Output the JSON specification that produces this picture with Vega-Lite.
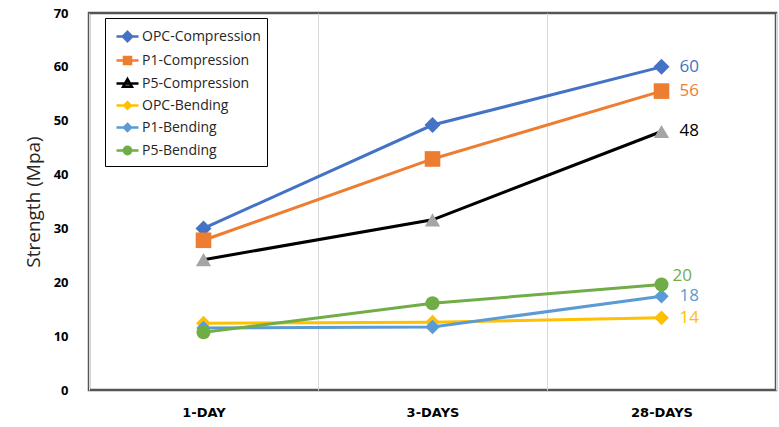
{
  "$schema": "https://vega.github.io/schema/vega-lite/v6.json",
  "width": 687,
  "height": 377,
  "autosize": {"type": "none"},
  "padding": {"left": 89, "top": 13, "right": 3, "bottom": 37},
  "background": "white",
  "config": {
    "view": {"stroke": "#555555", "strokeWidth": 2.5},
    "font": "Open Sans"
  },
  "data": {
    "values": [
      {"series": "OPC-Compression", "day": "1-DAY", "value": 30},
      {"series": "OPC-Compression", "day": "3-DAYS", "value": 49.2},
      {"series": "OPC-Compression", "day": "28-DAYS", "value": 60, "label": "60"},
      {"series": "P1-Compression", "day": "1-DAY", "value": 27.8},
      {"series": "P1-Compression", "day": "3-DAYS", "value": 42.9},
      {"series": "P1-Compression", "day": "28-DAYS", "value": 55.5, "label": "56"},
      {"series": "P5-Compression", "day": "1-DAY", "value": 24.2},
      {"series": "P5-Compression", "day": "3-DAYS", "value": 31.6},
      {"series": "P5-Compression", "day": "28-DAYS", "value": 48, "label": "48"},
      {"series": "OPC-Bending", "day": "1-DAY", "value": 12.4},
      {"series": "OPC-Bending", "day": "3-DAYS", "value": 12.6},
      {"series": "OPC-Bending", "day": "28-DAYS", "value": 13.4, "label": "14"},
      {"series": "P1-Bending", "day": "1-DAY", "value": 11.5},
      {"series": "P1-Bending", "day": "3-DAYS", "value": 11.7},
      {"series": "P1-Bending", "day": "28-DAYS", "value": 17.4, "label": "18"},
      {"series": "P5-Bending", "day": "1-DAY", "value": 10.7},
      {"series": "P5-Bending", "day": "3-DAYS", "value": 16.1},
      {"series": "P5-Bending", "day": "28-DAYS", "value": 19.6, "label": "20"}
    ]
  },
  "encoding": {
    "x": {
      "field": "day", "type": "nominal", "sort": ["1-DAY", "3-DAYS", "28-DAYS"],
      "scale": {"paddingInner": 0, "paddingOuter": 0},
      "axis": {
        "title": null, "labelAngle": 0, "grid": true, "tickBand": "extent",
        "gridColor": "#d9d9d9", "gridWidth": 1, "ticks": false, "domain": false,
        "labelFont": "DejaVu Sans", "labelFontWeight": "bold", "labelFontSize": 13,
        "labelColor": "#000000", "labelPadding": 16
      }
    },
    "y": {
      "field": "value", "type": "quantitative",
      "scale": {"domain": [0, 70], "nice": false},
      "axis": {
        "title": "Strength (Mpa)", "values": [0, 10, 20, 30, 40, 50, 60, 70],
        "grid": false, "ticks": false, "domain": false,
        "labelFont": "Open Sans", "labelFontWeight": "bold", "labelFontSize": 13,
        "labelColor": "#000000", "labelPadding": 21,
        "titleFont": "Open Sans", "titleFontWeight": "normal", "titleFontSize": 19,
        "titleColor": "#262626", "titlePadding": 10
      }
    }
  },
  "resolve": {"scale": {"shape": "independent", "fill": "independent", "stroke": "independent", "size": "independent", "strokeWidth": "independent"}},
  "layer": [
    {
      "mark": {"type": "line"},
      "encoding": {
        "detail": {"field": "series"},
        "stroke": {
          "field": "series", "type": "nominal", "legend": null,
          "scale": {
            "domain": ["OPC-Compression", "P1-Compression", "P5-Compression", "OPC-Bending", "P1-Bending", "P5-Bending"],
            "range": ["#4472C4", "#ED7D31", "#000000", "#FFC000", "#5B9BD5", "#70AD47"]
          }
        },
        "strokeWidth": {
          "field": "series", "type": "nominal", "legend": null,
          "scale": {
            "domain": ["OPC-Compression", "P1-Compression", "P5-Compression", "OPC-Bending", "P1-Bending", "P5-Bending"],
            "range": [3, 3, 3, 2.5, 2.5, 2.5]
          }
        }
      }
    },
    {
      "mark": {"type": "point", "filled": true, "opacity": 1},
      "encoding": {
        "fill": {
          "field": "series", "type": "nominal", "legend": null,
          "scale": {
            "domain": ["OPC-Compression", "P1-Compression", "P5-Compression", "OPC-Bending", "P1-Bending", "P5-Bending"],
            "range": ["#4472C4", "#ED7D31", "#A5A5A5", "#FFC000", "#5B9BD5", "#70AD47"]
          }
        },
        "shape": {
          "field": "series", "type": "nominal", "legend": null,
          "scale": {
            "domain": ["OPC-Compression", "P1-Compression", "P5-Compression", "OPC-Bending", "P1-Bending", "P5-Bending"],
            "range": ["diamond", "square", "triangle-up", "diamond", "diamond", "circle"]
          }
        },
        "size": {
          "field": "series", "type": "nominal", "legend": null,
          "scale": {
            "domain": ["OPC-Compression", "P1-Compression", "P5-Compression", "OPC-Bending", "P1-Bending", "P5-Bending"],
            "range": [256, 196, 240, 121, 144, 170]
          }
        }
      }
    },
    {
      "transform": [{"filter": "false"}],
      "mark": {"type": "point", "filled": true, "opacity": 1},
      "encoding": {
        "fill": {
          "field": "series", "type": "nominal",
          "scale": {
            "domain": ["OPC-Compression", "P1-Compression", "P5-Compression", "OPC-Bending", "P1-Bending", "P5-Bending"],
            "range": ["#4472C4", "#ED7D31", "#A5A5A5", "#FFC000", "#5B9BD5", "#70AD47"]
          },
          "legend": {
            "title": null, "orient": "none", "legendX": 16, "legendY": 5,
            "strokeColor": "#000000", "padding": 6, "symbolSize": 484,
            "symbolStrokeWidth": 2.5, "symbolOpacity": 1, "rowPadding": 1,
            "symbolOffset": 4,
            "labelFont": "Open Sans", "labelFontSize": 14, "labelColor": "#262626",
            "labelOffset": 2, "labelLimit": 300
          }
        },
        "stroke": {
          "field": "series", "type": "nominal",
          "scale": {
            "domain": ["OPC-Compression", "P1-Compression", "P5-Compression", "OPC-Bending", "P1-Bending", "P5-Bending"],
            "range": ["#4472C4", "#ED7D31", "#000000", "#FFC000", "#5B9BD5", "#70AD47"]
          }
        },
        "shape": {
          "field": "series", "type": "nominal",
          "scale": {
            "domain": ["OPC-Compression", "P1-Compression", "P5-Compression", "OPC-Bending", "P1-Bending", "P5-Bending"],
            "range": [
              "M-1,0L1,0M0,-0.42L0.42,0L0,0.42L-0.42,0Z",
              "M-1,0L1,0M-0.32,-0.32L0.32,-0.32L0.32,0.32L-0.32,0.32Z",
              "M-1,0L1,0M0,-0.4L0.4,0.3L-0.4,0.3Z",
              "M-1,0L1,0M0,-0.3L0.3,0L0,0.3L-0.3,0Z",
              "M-1,0L1,0M0,-0.32L0.32,0L0,0.32L-0.32,0Z",
              "M-1,0L1,0M0.33,0A0.33,0.33,0,1,1,-0.33,0A0.33,0.33,0,1,1,0.33,0Z"
            ]
          }
        }
      }
    },
    {
      "transform": [{"filter": "datum.label != null && datum.series != 'P5-Bending'"}],
      "mark": {"type": "text", "align": "left", "baseline": "middle", "dx": 18, "fontSize": 17, "font": "Open Sans"},
      "encoding": {
        "text": {"field": "label"},
        "fill": {
          "field": "series", "type": "nominal", "legend": null,
          "scale": {
            "domain": ["OPC-Compression", "P1-Compression", "P5-Compression", "OPC-Bending", "P1-Bending", "P5-Bending"],
            "range": ["#4472C4", "#ED7D31", "#000000", "#FFC000", "#5B9BD5", "#70AD47"]
          }
        }
      }
    },
    {
      "transform": [{"filter": "datum.label != null && datum.series == 'P5-Bending'"}],
      "mark": {"type": "text", "align": "left", "baseline": "middle", "dx": 11, "dy": -8, "fontSize": 17, "font": "Open Sans", "fill": "#70AD47"},
      "encoding": {
        "text": {"field": "label"}
      }
    }
  ]
}
